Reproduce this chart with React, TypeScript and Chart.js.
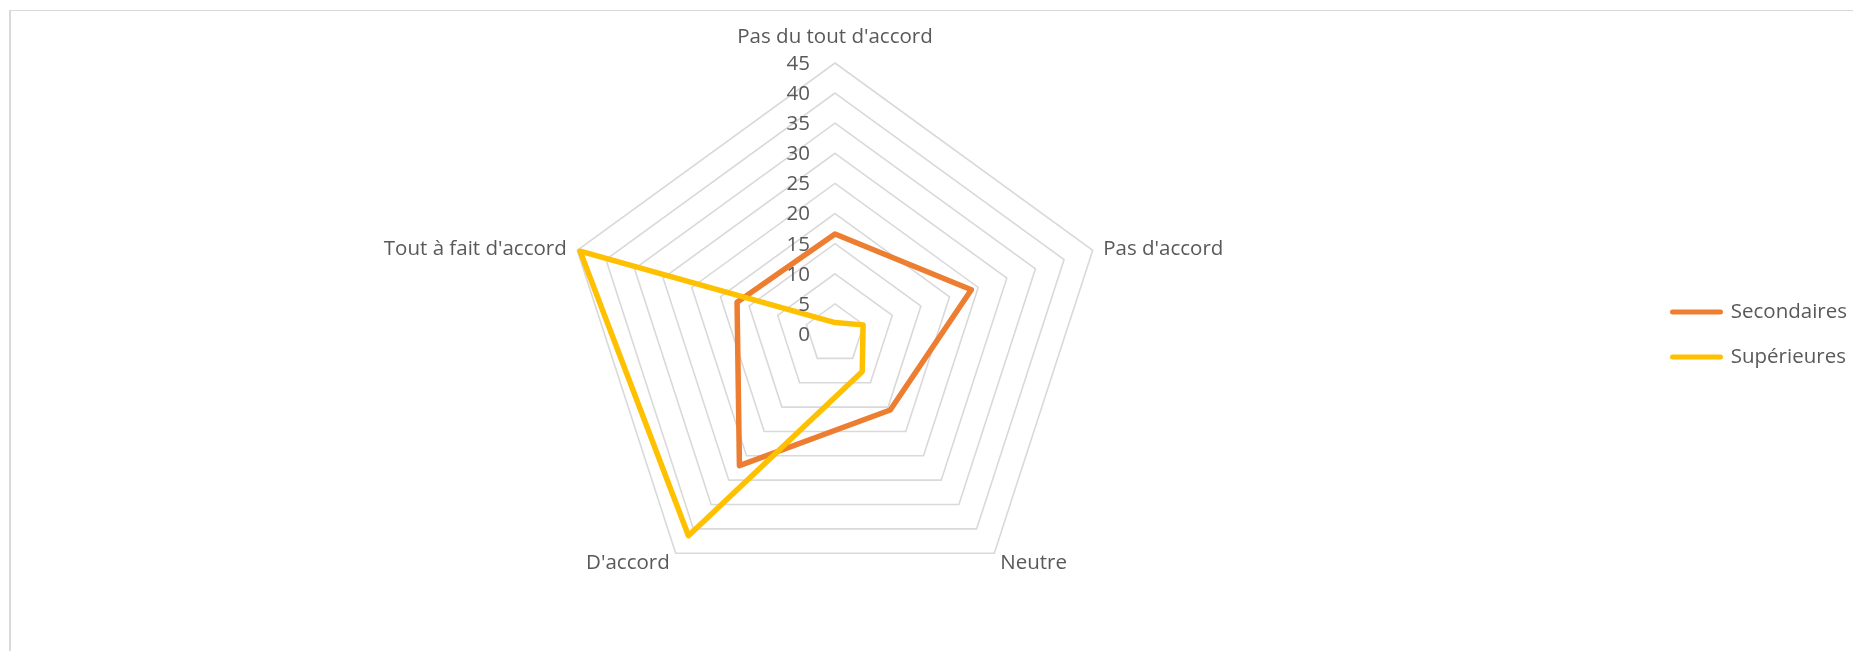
import React, { useEffect, useRef } from "react";
import { Chart, registerables } from "chart.js";

Chart.register(...registerables);

const categories = [
  "Pas du tout d'accord",
  "Pas d'accord",
  "Neutre",
  "D'accord",
  "Tout à fait d'accord",
];
const seriesNames = ["Secondaires", "Supérieures"];
const secondaires = [16.6, 23.8, 15.6, 27.0, 17.1];
const superieures = [1.9, 4.9, 7.7, 41.4, 44.5];
const tickMin = 0;
const tickMax = 45;
const tickStep = 5;

const FONT = "'Open Sans', sans-serif";
const FONT_SIZE = 20.5;
const TEXT = "#595959";
const COLORS = ["#ED7D31", "#FFC000"];
const LINE_W = 5.5;

const labelsPlugin = {
  id: "excelLabels",
  afterDraw(chart: any) {
    const scale = chart.scales.r;
    const ctx = chart.ctx;
    ctx.save();
    ctx.font = `${FONT_SIZE}px ${FONT}`;
    ctx.fillStyle = TEXT;
    // tick labels
    ctx.textAlign = "right";
    ctx.textBaseline = "middle";
    scale.ticks.forEach((t: any) => {
      const d = scale.getDistanceFromCenterForValue(t.value);
      ctx.fillText(String(t.value), scale.xCenter - 25, scale.yCenter - d + 1);
    });
    // point labels
    ctx.textBaseline = "alphabetic";
    const labels = chart.data.labels as string[];
    labels.forEach((lab, i) => {
      const deg = (scale.getIndexAngle(i) * 180) / Math.PI;
      const p = scale.getPointPosition(i, scale.drawingArea);
      let x = p.x;
      let y = p.y;
      if (deg < 1 || deg > 359) {
        ctx.textAlign = "center";
        y -= 20;
      } else if (deg < 90) {
        ctx.textAlign = "left";
        x += 10.5;
        y += 4.5;
      } else if (deg < 180) {
        ctx.textAlign = "left";
        x += 6;
        y += 16;
      } else if (deg < 270) {
        ctx.textAlign = "right";
        x -= 6;
        y += 16;
      } else {
        ctx.textAlign = "right";
        x -= 10.5;
        y += 4.5;
      }
      ctx.fillText(lab, x, y);
    });
    ctx.restore();
  },
};

export default function App() {
  const ref = useRef<HTMLCanvasElement | null>(null);

  useEffect(() => {
    if (!ref.current) return;
    const chart = new Chart(ref.current, {
      type: "radar",
      data: {
        labels: categories,
        datasets: [
          {
            label: seriesNames[0],
            data: secondaires,
            borderColor: COLORS[0],
            backgroundColor: "transparent",
            borderWidth: LINE_W,
            borderJoinStyle: "round",
            fill: false,
            pointRadius: 0,
            pointHoverRadius: 0,
            order: 1,
          },
          {
            label: seriesNames[1],
            data: superieures,
            borderColor: COLORS[1],
            backgroundColor: "transparent",
            borderWidth: LINE_W,
            borderJoinStyle: "round",
            fill: false,
            pointRadius: 0,
            pointHoverRadius: 0,
            order: 0,
          },
        ],
      },
      options: {
        responsive: false,
        animation: false,
        layout: { padding: { left: 22, right: 0, top: 63, bottom: 45 } },
        elements: { line: { tension: 0 } },
        plugins: {
          tooltip: { enabled: false },
          legend: {
            position: "right",
            maxWidth: 205,
            labels: {
              usePointStyle: true,
              pointStyle: "line",
              pointStyleWidth: 48,
              padding: 24.5,
              color: TEXT,
              font: { family: FONT, size: FONT_SIZE },
              generateLabels: (c: any) =>
                c.data.datasets.map((ds: any, i: number) => ({
                  text: ds.label,
                  fillStyle: ds.borderColor,
                  strokeStyle: ds.borderColor,
                  lineWidth: 5,
                  lineCap: "round",
                  pointStyle: "line",
                  hidden: false,
                  datasetIndex: i,
                  fontColor: TEXT,
                })),
            },
          },
        },
        scales: {
          r: {
            min: tickMin,
            max: tickMax,
            ticks: { display: false, stepSize: tickStep },
            pointLabels: { display: false },
            angleLines: { display: false },
            grid: { color: "#d9d9d9", lineWidth: 1.6 },
          },
        },
      },
      plugins: [labelsPlugin],
    } as any);
    return () => chart.destroy();
  }, []);

  return (
    <>
      <div
        style={{
          position: "fixed",
          left: 9,
          top: 10,
          right: 0,
          bottom: 0,
          borderTop: "1px solid #d9d9d9",
          borderLeft: "2px solid #d9d9d9",
        }}
      />
      <canvas
        ref={ref}
        width={1853}
        height={651}
        style={{ position: "fixed", left: 0, top: 0, width: 1853, height: 651 }}
      />
    </>
  );
}
